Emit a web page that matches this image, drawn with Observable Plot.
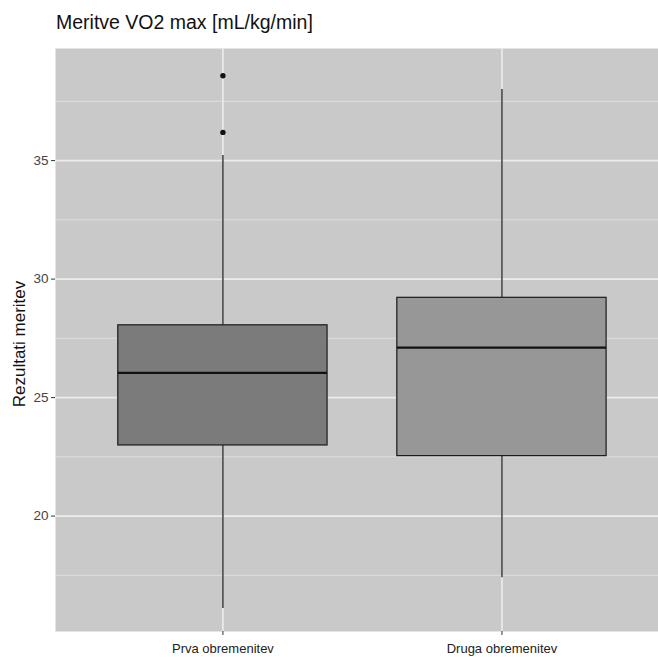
<!DOCTYPE html>
<html>
<head>
<meta charset="utf-8">
<script src="https://cdn.jsdelivr.net/npm/d3@7"></script>
<script src="https://cdn.jsdelivr.net/npm/@observablehq/plot@0.6"></script>
<style>
  html, body { margin: 0; padding: 0; background: #fff; overflow: hidden; }
  #title { font-family: "Liberation Sans", Arial, sans-serif; font-size: 19.5px; color: #111;
           padding: 10px 0 0 56px; height: 34px; line-height: 24px; box-sizing: content-box; }
  #chart svg { display: block; }
</style>
</head>
<body>
<div id="title">Meritve VO2 max [mL/kg/min]</div>
<div id="chart"></div>
<script>
// Data
const categories = ["Prva obremenitev", "Druga obremenitev"];
const whiskerLow  = [16.1, 17.4];
const q1          = [22.98, 22.53];
const median      = [26.04, 27.11];
const q3          = [28.05, 29.21];
const whiskerHigh = [35.21, 38.0];
const outlierCategory = ["Prva obremenitev", "Prva obremenitev"];
const outlierValue    = [36.19, 38.58];
const yMajorTicks = [20, 25, 30, 35];
const yMinorTicks = [17.5, 22.5, 27.5, 32.5, 37.5];

// Tables built from the arrays
const boxes = categories.map((c, i) => ({
  cat: c, pos: i + 1, lo: whiskerLow[i], q1: q1[i], med: median[i], q3: q3[i], hi: whiskerHigh[i]
}));
const outliers = outlierCategory.map((c, i) => ({ pos: categories.indexOf(c) + 1, value: outlierValue[i] }));
const half = 0.375;
const fills = ["#7b7b7b", "#979797"];

const W = 658, H = 613;
const plot = Plot.plot({
  width: W,
  height: H,
  marginLeft: 55,
  marginRight: 0,
  marginTop: 4,
  marginBottom: 26,
  style: { fontFamily: "'Liberation Sans', Arial, sans-serif", background: "#fff" },
  x: { type: "linear", domain: [0.4, 2.561] },
  y: { domain: [15.13, 39.73] },
  marks: [
    Plot.frame({ fill: "#c9c9c9", stroke: null }),
    Plot.ruleY(yMinorTicks, { stroke: "#dedede", strokeWidth: 1 }),
    Plot.ruleY(yMajorTicks, { stroke: "#ececec", strokeWidth: 1.6 }),
    Plot.ruleX(boxes, { x: "pos", stroke: "#ececec", strokeWidth: 1.6 }),
    // whiskers
    Plot.ruleX(boxes, { x: "pos", y1: "lo", y2: "q1", stroke: "#222", strokeWidth: 1.3 }),
    Plot.ruleX(boxes, { x: "pos", y1: "q3", y2: "hi", stroke: "#222", strokeWidth: 1.3 }),
    // boxes
    Plot.rect(boxes, {
      x1: d => d.pos - half, x2: d => d.pos + half, y1: "q1", y2: "q3",
      fill: (d, i) => fills[i], stroke: "#1a1a1a", strokeWidth: 1.2
    }),
    // medians
    Plot.ruleY(boxes, { y: "med", x1: d => d.pos - half, x2: d => d.pos + half, stroke: "#111", strokeWidth: 2.2 }),
    // outliers
    Plot.dot(outliers, { x: "pos", y: "value", r: 2.7, fill: "#111", stroke: null }),
    // axes
    Plot.axisY({
      ticks: yMajorTicks, tickSize: 4, tickPadding: 3, stroke: "#333",
      fontSize: 13.5, color: "#444", label: null
    }),
    Plot.axisX({
      ticks: [1, 2], tickSize: 4, tickPadding: 8, stroke: "#333",
      tickFormat: d => categories[d - 1], fontSize: 13, color: "#222", label: null
    }),
    Plot.text(["Rezultati meritev"], {
      frameAnchor: "left", dx: -36, dy: 4, rotate: -90, fontSize: 17, fill: "#111", textAnchor: "middle"
    })
  ]
});
document.getElementById("chart").appendChild(plot);
</script>
</body>
</html>
